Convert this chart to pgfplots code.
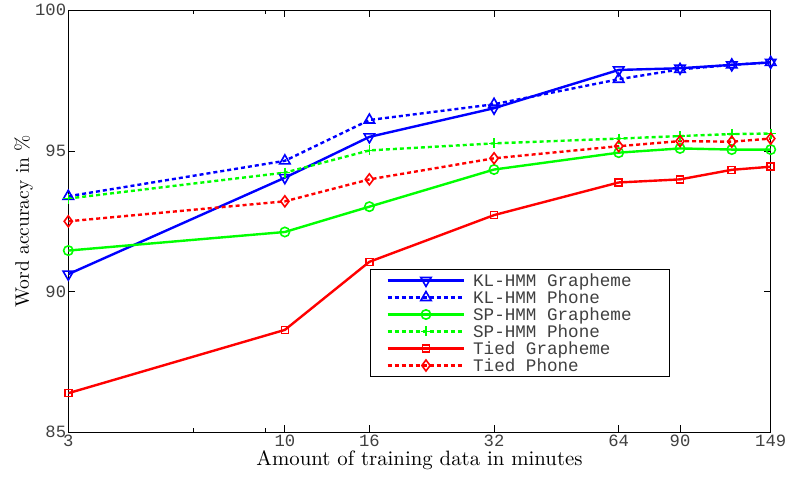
\documentclass[border=0pt]{standalone}
\usepackage{fontspec}
\usepackage{pgfplots}
\pgfplotsset{compat=1.18}
\newfontfamily\monofont[WordSpace={1,0,0}]{Liberation Mono}
\newfontfamily\labelfont[Extension=.otf]{lmroman10-regular}
\definecolor{mblue}{RGB}{0,0,255}
\definecolor{mgreen}{RGB}{0,255,0}
\definecolor{mred}{RGB}{255,0,0}
\definecolor{tickgray}{RGB}{64,64,64}
\newcommand{\msp}{\hspace{0.6em}}
\begin{document}
\begin{tikzpicture}
\begin{axis}[
  scale only axis,
  width=702.4pt, height=422pt,
  xmode=log,
  xmin=3, xmax=149, ymin=85, ymax=100,
  xtick={3,10,16,32,64,90,149},
  xticklabels={3,10,16,32,64,90,149},
  minor xtick={6,9},
  ytick={85,90,95,100},
  yticklabels={85,90,95,100},
  tick align=inside,
  major tick length=7pt, minor tick length=4pt,
  every tick/.style={black, line width=0.8pt},
  axis line style={line width=1.2pt},
  /pgf/number format/assume math mode=true,
  tick label style={font=\monofont\fontsize{17.2}{17.2}\selectfont, text=tickgray},
  xticklabel style={inner sep=2pt},
  yticklabel style={inner sep=2pt},
  xlabel={Amount of training data in minutes},
  ylabel={Word accuracy in \%},
  xlabel style={font=\labelfont\fontsize{20.8}{21}\selectfont, inner sep=0pt,
    at={(axis description cs:0.5,0)}, anchor=base, yshift=-33pt},
  ylabel style={font=\labelfont\fontsize{19.5}{20}\selectfont, inner sep=0pt},
  legend style={
    at={(axis description cs:0.4295,0.387)}, anchor=north west,
    draw=black, line width=1pt,
    inner xsep=0pt, inner ysep=2.5pt,
    column sep=0pt, row sep=0pt,
    font=\monofont\fontsize{17.6}{17}\selectfont, text=tickgray,
    nodes={inner xsep=0pt, inner ysep=0pt, text width=196pt, text height=14.5pt, text depth=2.5pt, anchor=west},
  },
  legend cell align=left,
  legend image code/.code={
    \path (-16pt,0pt) (84.3pt,0pt);
    \draw[mark repeat=2, mark phase=2, #1] plot coordinates {(0pt,0pt) (38.3pt,0pt) (76.7pt,0pt)};
  },
  every axis plot/.append style={line width=2.4pt},
]
% KL-HMM Grapheme
\addplot[mblue, solid, mark=triangle, mark size=6pt, mark options={solid, rotate=180, line width=1.6pt}]
  coordinates {(3,90.62) (10,94.05) (16,95.50) (32,96.52) (64,97.88) (90,97.94) (120,98.06) (149,98.15)};
\addlegendentry{KL-HMM\msp Grapheme}
% KL-HMM Phone
\addplot[mblue, dash pattern=on 4pt off 3pt, mark=triangle, mark size=6pt, mark options={solid, line width=1.6pt}]
  coordinates {(3,93.39) (10,94.65) (16,96.10) (32,96.66) (64,97.55) (90,97.90) (120,98.06) (149,98.15)};
\addlegendentry{KL-HMM\msp Phone}
% SP-HMM Grapheme
\addplot[mgreen, solid, mark=o, mark size=4.7pt, mark options={solid, line width=1.6pt}]
  coordinates {(3,91.46) (10,92.12) (16,93.02) (32,94.34) (64,94.94) (90,95.09) (120,95.05) (149,95.05)};
\addlegendentry{SP-HMM\msp Grapheme}
% SP-HMM Phone
\addplot[mgreen, dash pattern=on 4pt off 3pt, mark=+, mark size=5pt, mark options={solid, line width=1.6pt}]
  coordinates {(3,93.31) (10,94.23) (16,95.02) (32,95.27) (64,95.44) (90,95.53) (120,95.60) (149,95.62)};
\addlegendentry{SP-HMM\msp Phone}
% Tied Grapheme
\addplot[mred, solid, mark=square, mark size=3.5pt, mark options={solid, line width=1.6pt}]
  coordinates {(3,86.39) (10,88.64) (16,91.06) (32,92.72) (64,93.88) (90,93.99) (120,94.33) (149,94.44)};
\addlegendentry{Tied\msp Grapheme}
% Tied Phone
\addplot[mred, dash pattern=on 4pt off 3pt, mark=diamond, mark size=5.5pt, mark options={solid, line width=1.6pt}]
  coordinates {(3,92.50) (10,93.21) (16,93.99) (32,94.74) (64,95.17) (90,95.35) (120,95.33) (149,95.44)};
\addlegendentry{Tied\msp Phone}
\end{axis}
\pgfresetboundingbox
\path[use as bounding box] (-68.3pt,-44.7pt) rectangle (718.7pt,432.3pt);
\end{tikzpicture}
\end{document}
